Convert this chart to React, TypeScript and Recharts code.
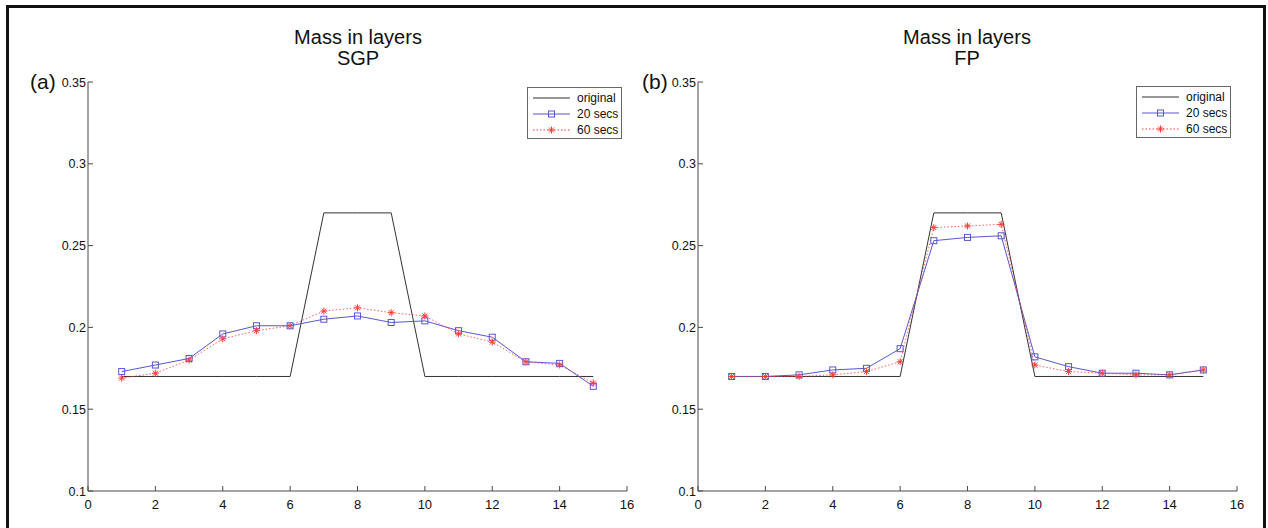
import { LineChart, Line, XAxis, YAxis, Legend } from "recharts";

const layers = [1, 2, 3, 4, 5, 6, 7, 8, 9, 10, 11, 12, 13, 14, 15];
const original = [0.17, 0.17, 0.17, 0.17, 0.17, 0.17, 0.27, 0.27, 0.27, 0.17, 0.17, 0.17, 0.17, 0.17, 0.17];
const sgp20 = [0.173, 0.177, 0.181, 0.196, 0.201, 0.201, 0.205, 0.207, 0.203, 0.204, 0.198, 0.194, 0.179, 0.178, 0.164];
const sgp60 = [0.169, 0.172, 0.18, 0.193, 0.198, 0.201, 0.21, 0.212, 0.209, 0.207, 0.196, 0.191, 0.179, 0.177, 0.166];
const fp20 = [0.17, 0.17, 0.171, 0.174, 0.175, 0.187, 0.253, 0.255, 0.256, 0.182, 0.176, 0.172, 0.172, 0.171, 0.174];
const fp60 = [0.17, 0.17, 0.17, 0.171, 0.173, 0.179, 0.261, 0.262, 0.263, 0.177, 0.173, 0.172, 0.171, 0.171, 0.174];
const xTicks = [0, 2, 4, 6, 8, 10, 12, 14, 16];
const yTicks = [0.1, 0.15, 0.2, 0.25, 0.3, 0.35];
const seriesNames = ["original", "20 secs", "60 secs"];

const FONT = "'Liberation Sans', Arial, Helvetica, sans-serif";
const AXIS = "#4a4a4a";
const BLUE = "#5757cf";
const RED = "#ff3a3a";

const makeRows = (a: number[], b: number[]) =>
  layers.map((l, i) => ({ layer: l, original: original[i], s20: a[i], s60: b[i] }));

const Square = (p: any) => {
  if (p.cx == null || p.cy == null) return <g key={p.key} />;
  return <rect key={p.key} x={p.cx - 3} y={p.cy - 3} width={6} height={6} fill="none" stroke={BLUE} strokeWidth={1} />;
};

const Star = (p: any) => {
  if (p.cx == null || p.cy == null) return <g key={p.key} />;
  const { cx, cy } = p;
  const r = 3.5, d = 2.5;
  return (
    <g key={p.key} stroke={RED} strokeWidth={1}>
      <line x1={cx - r} y1={cy} x2={cx + r} y2={cy} />
      <line x1={cx} y1={cy - r} x2={cx} y2={cy + r} />
      <line x1={cx - d} y1={cy - d} x2={cx + d} y2={cy + d} />
      <line x1={cx - d} y1={cy + d} x2={cx + d} y2={cy - d} />
    </g>
  );
};

// tick labels drawn as plain text so size and colour are ours
const XTick = ({ x, y, payload }: any) => (
  <text x={x} y={y + 14} textAnchor="middle" fontFamily={FONT} fontSize={13} fill="#111">{payload.value}</text>
);
const YTick = ({ x, y, payload }: any) => (
  <text x={x} y={y + 4.5} textAnchor="end" fontFamily={FONT} fontSize={12.5} fill="#111">{payload.value}</text>
);

const LegendBox = () => (
  <div style={{ width: 95, height: 52, border: "1px solid #666", background: "#fff", boxSizing: "border-box", fontFamily: FONT, fontSize: 12, color: "#111", paddingTop: 2 }}>
    {seriesNames.map((name, i) => (
      <div key={name} style={{ display: "flex", alignItems: "center", height: 16 }}>
        <svg width={44} height={10} style={{ marginLeft: 5 }}>
          {i === 0 && <line x1={0} y1={5} x2={37} y2={5} stroke="#333" />}
          {i === 1 && <line x1={0} y1={5} x2={37} y2={5} stroke={BLUE} />}
          {i === 1 && <rect x={15.5} y={2} width={6} height={6} fill="none" stroke={BLUE} />}
          {i === 2 && <line x1={0} y1={5} x2={37} y2={5} stroke={RED} strokeDasharray="1.5 2" />}
          {i === 2 && (
            <g stroke={RED}>
              <line x1={15} y1={5} x2={22} y2={5} />
              <line x1={18.5} y1={1.5} x2={18.5} y2={8.5} />
              <line x1={16} y1={2.5} x2={21} y2={7.5} />
              <line x1={16} y1={7.5} x2={21} y2={2.5} />
            </g>
          )}
        </svg>
        <span>{name}</span>
      </div>
    ))}
  </div>
);

const Panel = ({ data, width, margin, legendPos }: { data: any[]; width: number; margin: any; legendPos: any }) => (
  <LineChart width={width} height={528} data={data} margin={margin}>
    <XAxis dataKey="layer" type="number" domain={[0, 16]} ticks={xTicks} height={30} stroke={AXIS} tickSize={-5} tickMargin={9} tick={<XTick />} />
    <XAxis xAxisId="top" orientation="top" dataKey="layer" type="number" domain={[0, 16]} ticks={xTicks} height={0} stroke={AXIS} tickSize={-5} tick={false} />
    <YAxis type="number" domain={[0.1, 0.35]} ticks={yTicks} width={40} stroke={AXIS} tickSize={-5} tickMargin={7} tick={<YTick />} />
    <YAxis yAxisId="right" orientation="right" type="number" domain={[0.1, 0.35]} ticks={yTicks} width={0} stroke={AXIS} tickSize={-5} tick={false} />
    <Line dataKey="original" stroke="#333" strokeWidth={1} dot={false} isAnimationActive={false} />
    <Line dataKey="s20" stroke={BLUE} strokeWidth={1} dot={Square} isAnimationActive={false} />
    <Line dataKey="s60" stroke={RED} strokeOpacity={0.8} strokeWidth={1} strokeDasharray="1.5 2" dot={Star} isAnimationActive={false} />
    <Legend layout="vertical" align="center" verticalAlign="middle" content={<LegendBox />} wrapperStyle={{ left: legendPos.left, top: legendPos.top, width: 95 }} />
  </LineChart>
);

const titleStyle: any = { position: "absolute", top: 27, width: 300, textAlign: "center", fontFamily: FONT, fontSize: 20, lineHeight: "21px", color: "#111" };
const tagStyle: any = { position: "absolute", top: 70, fontFamily: FONT, fontSize: 21, color: "#111" };

export default function App() {
  return (
    <div style={{ position: "absolute", left: 0, top: 0, width: 1268, height: 528, overflow: "hidden", background: "#fff" }}>
      <div style={{ position: "absolute", left: 6, top: 5, width: 1260, height: 600, border: "3px solid #111", boxSizing: "border-box" }} />
      <div style={{ position: "absolute", left: 0, top: 0 }}>
        <Panel data={makeRows(sgp20, sgp60)} width={640} margin={{ top: 82, right: 13, bottom: 7, left: 48 }} legendPos={{ left: 527, top: 87 }} />
      </div>
      <div style={{ position: "absolute", left: 640, top: 0 }}>
        <Panel data={makeRows(fp20, fp60)} width={628} margin={{ top: 82, right: 31, bottom: 7, left: 18 }} legendPos={{ left: 496, top: 86 }} />
      </div>
      <div style={{ ...titleStyle, left: 208 }}>Mass in layers<br />SGP</div>
      <div style={{ ...titleStyle, left: 817 }}>Mass in layers<br />FP</div>
      <div style={{ ...tagStyle, left: 30 }}>(a)</div>
      <div style={{ ...tagStyle, left: 642 }}>(b)</div>
    </div>
  );
}
